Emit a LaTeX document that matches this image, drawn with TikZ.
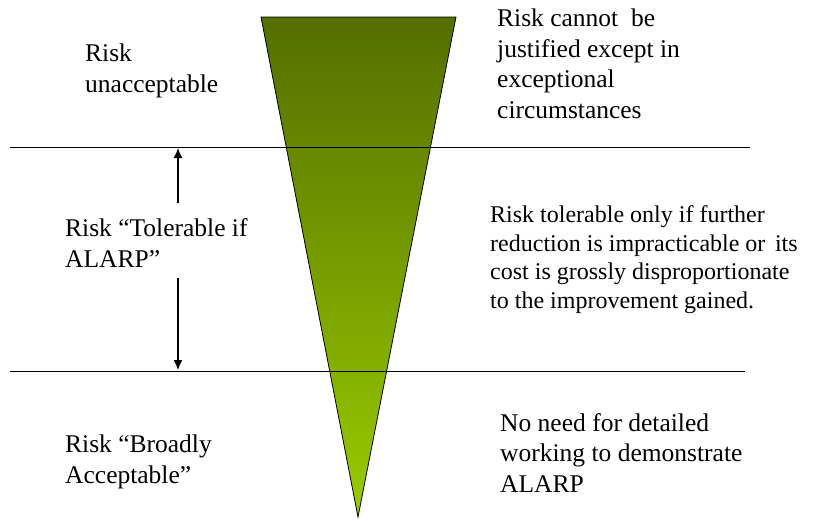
\documentclass[tikz,border=0pt]{standalone}
\usepackage{xcolor}
\usepackage{fontspec}
\setmainfont{Liberation Serif}
\usepackage{tikz}
\usetikzlibrary{arrows.meta, calc, positioning}

\definecolor{olivetop}{RGB}{84,110,0}
\definecolor{limebottom}{RGB}{153,204,0}

\begin{document}
\begin{tikzpicture}[x=1pt, y=-1pt, arrow/.style = {line width=1.4pt,-{Latex[length=10pt,width=9pt]}}]
				\tikzset{label/.style={anchor=base west, inner sep=0pt, align=left, font=\fontsize{25.5}{30.5}\selectfont}}

				\useasboundingbox (0,0) rectangle (828,520);

				% Triangolo
				\shade[top color=olivetop, bottom color=limebottom, draw=black, line width=0.8pt] (261,17) -- (456,17) -- (358,517) -- cycle;

				% Linee di separazione
				\coordinate (upl) at (10,147);
				\coordinate (upr) at (750,147);
				\coordinate (lol) at (10,371);
				\coordinate (lor) at (745,371);
				\draw[line width=0.8pt] (upl) -- (upr);
				\draw[line width=0.8pt] (lol) -- (lor);

				% Sinistra (base = ultima riga)
				\node[label] (unacc) at (85,92) {Risk\\unacceptable};
				\node[label] (alarp) at (65,267) {Risk “Tolerable if\\ALARP”};
				\node[label] (broad) at (65,483) {Risk “Broadly\\Acceptable”};

				% Destra
				\node[label] (justif) at (497,118) {Risk cannot\ \ be\\justified except in\\exceptional\\circumstances};
				\node[label, font=\fontsize{24}{28.5}\selectfont] (reduc) at (490,308) {Risk tolerable only if further\\reduction is impracticable or\hspace{0.4em}its\\cost is grossly disproportionate\\to the improvement gained.};
				\node[label] (noneed) at (500,492) {No need for detailed\\working to demonstrate\\ALARP};

				% Frecce
				\coordinate (arrup) at (178,203);
				\coordinate (arrtop) at (178,148);
				\coordinate (arrdn) at (178,278);
				\coordinate (arrbot) at (178,370);
				\draw [arrow] (arrup) -- (arrtop);
				\draw [arrow] (arrdn) -- (arrbot);

			\end{tikzpicture}
\end{document}
